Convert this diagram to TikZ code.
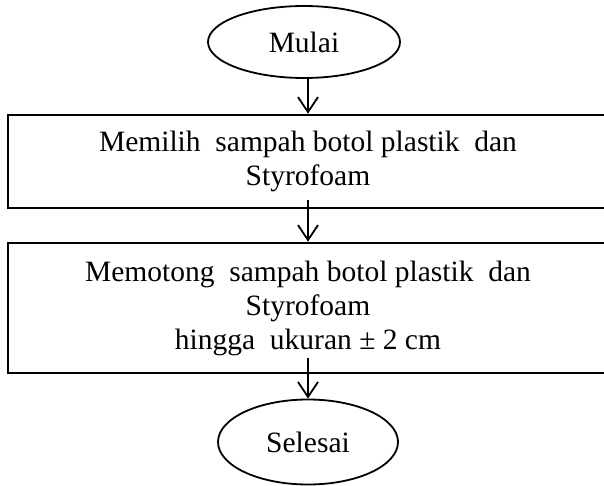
\documentclass[tikz,border=0pt]{standalone}
\usepackage{fontspec}
\setmainfont{Liberation Serif}
\usetikzlibrary{shapes.geometric,arrows.meta}
\begin{document}
\begin{tikzpicture}[x=1pt,y=-1pt]

        \useasboundingbox (0,0) rectangle (604,486);

        \begin{scope}[every node/.style={draw, inner sep=0pt, align=center,
            font=\fontsize{29.5}{34}\selectfont}]
          \node (mulai)   at (304,42)    [ellipse, line width=1.8pt, minimum width=192, minimum height=72] {Mulai};
          \node (pilih)   at (308,161.5) [rectangle, line width=2.6pt, minimum width=600, minimum height=93]
            {Memilih\ \ sampah botol plastik\ \ dan\\Styrofoam};
          \node (potong)  at (308,308)   [rectangle, line width=2.6pt, minimum width=600, minimum height=130]
            {Memotong\ \ sampah botol plastik\ \ dan\\Styrofoam\\hingga\ \ ukuran ± 2 cm};
          \node (selesai) at (308,442)   [ellipse, line width=1.8pt, minimum width=180, minimum height=85] {Selesai};
        \end{scope}

        \begin{scope}[every path/.style={draw, line width=1.8pt,
            -{Straight Barb[length=15pt, width=20pt, line width=1.8pt]}}]
          \path (mulai.south -| pilih.north) -- (pilih.north);
          \path ([yshift=9]pilih.south) -- (potong.north);
          \path ([yshift=16]potong.south) -- (selesai.north);
        \end{scope}

      \end{tikzpicture}
\end{document}
